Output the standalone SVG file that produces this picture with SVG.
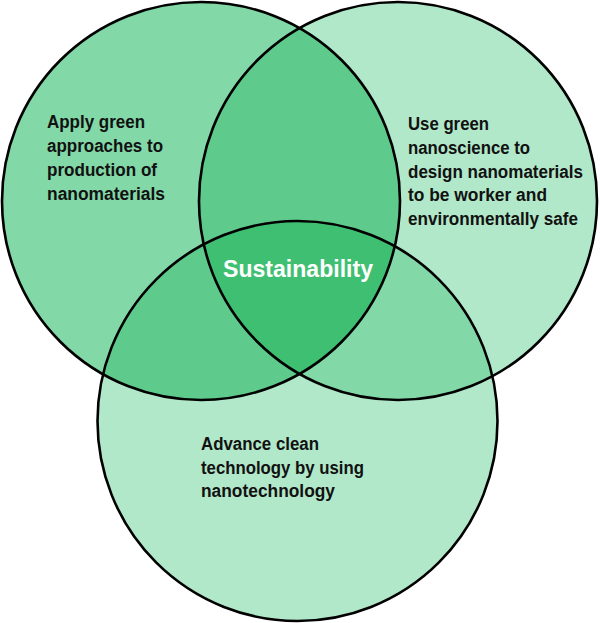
<svg xmlns="http://www.w3.org/2000/svg" width="600" height="623" viewBox="0 0 600 623">
<style>
.lbl{font-family:"Liberation Sans",Arial,sans-serif;font-weight:bold;font-size:18px;fill:#111;}
.core{font-family:"Liberation Sans",Arial,sans-serif;font-weight:bold;font-size:23.5px;fill:#fff;}
.ring{fill:none;stroke:#000;stroke-width:2.6;}
</style>
<defs>
<circle id="cL" cx="201" cy="201" r="199"/>
<circle id="cR" cx="398" cy="201" r="199"/>
<circle id="cB" cx="297.5" cy="421" r="200"/>
<clipPath id="clipL"><use href="#cL"/></clipPath>
<clipPath id="clipR"><use href="#cR"/></clipPath>
<clipPath id="clipLR" clip-path="url(#clipL)"><use href="#cR"/></clipPath>
</defs>
<rect width="600" height="623" fill="#fff"/>
<g id="fills">
<use href="#cL" fill="#83d8a8"/>
<use href="#cR" fill="#b1e8c9"/>
<use href="#cB" fill="#b1e8c9"/>
<use href="#cR" fill="#5ecb8c" clip-path="url(#clipL)"/>
<use href="#cB" fill="#5ecb8c" clip-path="url(#clipL)"/>
<use href="#cB" fill="#83d8a8" clip-path="url(#clipR)"/>
<use href="#cB" fill="#3fbf71" clip-path="url(#clipLR)"/>
</g>
<g id="node-left">
<use href="#cL" class="ring"/>
<text class="lbl"><tspan x="47" y="128" textLength="98" lengthAdjust="spacingAndGlyphs">Apply green</tspan><tspan x="47" y="152" textLength="116" lengthAdjust="spacingAndGlyphs">approaches to</tspan><tspan x="47" y="176" textLength="110" lengthAdjust="spacingAndGlyphs">production of</tspan><tspan x="47" y="200" textLength="118" lengthAdjust="spacingAndGlyphs">nanomaterials</tspan></text>
</g>
<g id="node-right">
<use href="#cR" class="ring"/>
<text class="lbl"><tspan x="408" y="130" textLength="81" lengthAdjust="spacingAndGlyphs">Use green</tspan><tspan x="408" y="153.8" textLength="122" lengthAdjust="spacingAndGlyphs">nanoscience to</tspan><tspan x="408" y="177.6" textLength="175" lengthAdjust="spacingAndGlyphs">design nanomaterials</tspan><tspan x="408" y="201.4" textLength="139" lengthAdjust="spacingAndGlyphs">to be worker and</tspan><tspan x="408" y="225.2" textLength="170" lengthAdjust="spacingAndGlyphs">environmentally safe</tspan></text>
</g>
<g id="node-bottom">
<use href="#cB" class="ring"/>
<text class="lbl"><tspan x="201" y="450" textLength="118" lengthAdjust="spacingAndGlyphs">Advance clean</tspan><tspan x="201" y="473.5" textLength="163" lengthAdjust="spacingAndGlyphs">technology by using</tspan><tspan x="201" y="497" textLength="134" lengthAdjust="spacingAndGlyphs">nanotechnology</tspan></text>
</g>
<g id="node-center">
<text class="core" x="223" y="276.5" textLength="150" lengthAdjust="spacingAndGlyphs">Sustainability</text>
</g>
<g id="connectors"></g>
</svg>
